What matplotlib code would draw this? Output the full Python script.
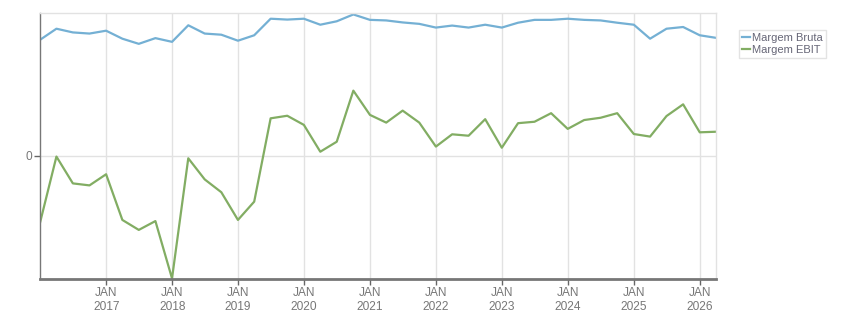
import matplotlib.pyplot as plt
import pandas as pd

# quarterly margins (%), Q4 2015 .. Q1 2026
quarters = pd.date_range('2015-12-31', periods=42, freq='QE')
margem_bruta = [40.7, 44.6, 43.3, 42.9, 43.9, 41.1, 39.3, 41.3, 40.0, 45.8,
                42.9, 42.5, 40.4, 42.3, 48.1, 47.8, 48.1, 46.0, 47.2, 49.6,
                47.7, 47.5, 46.8, 46.3, 45.0, 45.7, 45.0, 46.0, 45.0, 46.7,
                47.7, 47.7, 48.1, 47.7, 47.5, 46.7, 46.0, 41.1, 44.6, 45.2,
                42.3, 41.4]
margem_ebit = [-23.4, -0.2, -9.6, -10.3, -6.4, -22.4, -25.9, -22.8, -42.9, -0.8,
               -8.2, -12.7, -22.4, -16.0, 13.2, 14.1, 10.9, 1.5, 5.0, 22.9,
               14.4, 11.7, 15.9, 11.7, 3.3, 7.6, 7.1, 12.9, 2.9, 11.5,
               12.0, 15.0, 9.5, 12.6, 13.4, 15.0, 7.7, 6.8, 14.0, 18.1,
               8.3, 8.5]
tick_years = list(range(2017, 2027))

plt.rcParams['font.family'] = ['Liberation Sans', 'DejaVu Sans']

fig = plt.figure(figsize=(8.51, 3.13), dpi=100)
ax = fig.add_axes([40 / 851, 1 - 279 / 313, 676 / 851, (279 - 13.3) / 313])

ax.plot(quarters, margem_bruta, color='#74b0d4', lw=1.6, label='Margem Bruta')
ax.plot(quarters, margem_ebit, color='#82ad63', lw=1.6, label='Margem EBIT')

ax.set_xlim(quarters[0], quarters[-1])
ax.set_ylim(-43.1, 50)

ticks = [pd.Timestamp(f'{y}-01-01') for y in tick_years]
ax.set_xticks(ticks)
ax.set_xticklabels([f'JAN\n{y}' for y in tick_years], linespacing=1.15)
ax.set_yticks([0])
ax.set_yticklabels(['0'])
ax.grid(True, color='#e2e2e2', lw=1)
ax.set_axisbelow(True)

ax.tick_params(axis='x', colors='#666666', labelsize=8.6, length=4, width=1,
               labelcolor='#777777', pad=2)
ax.tick_params(axis='y', colors='#666666', labelsize=8.6, length=4, width=1,
               labelcolor='#777777', pad=2)

for s in ['top', 'right']:
    ax.spines[s].set_color('#e2e2e2')
    ax.spines[s].set_linewidth(1)
ax.spines['left'].set_color('#777777')
ax.spines['left'].set_linewidth(1)
ax.spines['bottom'].set_color('#777777')
ax.spines['bottom'].set_linewidth(2)

leg = fig.legend(loc='upper left', bbox_to_anchor=(739 / 851, 1 - 30 / 313),
                 fontsize=8, frameon=True, fancybox=False, handlelength=0.7,
                 handletextpad=0.2, borderpad=0.3, labelspacing=0.15,
                 borderaxespad=0)
leg.get_frame().set_edgecolor('#dddddd')
leg.get_frame().set_linewidth(1)
for t in leg.get_texts():
    t.set_color('#666677')

fig.savefig('out.png', dpi=100)
